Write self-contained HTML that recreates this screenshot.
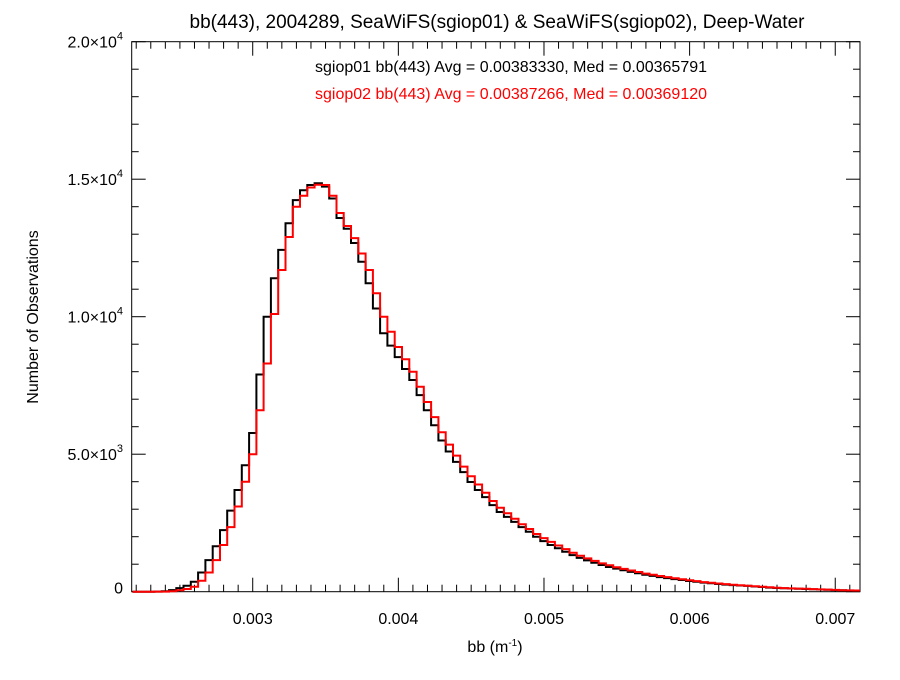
<!DOCTYPE html>
<html><head><meta charset="utf-8"><style>
body{margin:0;background:#fff}
svg text{font-family:"Liberation Sans",sans-serif}
</style></head><body>
<svg id="chart" width="900" height="675" xmlns="http://www.w3.org/2000/svg">
<rect width="900" height="675" fill="#fff"/>
<text x="497" y="28" font-size="19" text-anchor="middle">bb(443), 2004289, SeaWiFS(sgiop01) &amp; SeaWiFS(sgiop02), Deep-Water</text>
<text x="511" y="72" font-size="16" text-anchor="middle">sgiop01 bb(443) Avg = 0.00383330, Med = 0.00365791</text>
<text x="511" y="99" font-size="16" text-anchor="middle" fill="#f00">sgiop02 bb(443) Avg = 0.00387266, Med = 0.00369120</text>
<text transform="translate(38,317) rotate(-90)" font-size="16" text-anchor="middle">Number of Observations</text>
<text x="495" y="652" font-size="16" text-anchor="middle">bb (m<tspan font-size="10" dy="-6">-1</tspan><tspan dy="6">)</tspan></text>
<g id="axes"></g>
<g id="series"></g>
</svg>
<script>
const binStart=0.0022;
const binW=0.00005;
const sgiop01=[0,0,0,5,20,60,130,220,360,700,1150,1650,2240,2950,3700,4600,5770,7900,10000,11400,12430,13400,14240,14600,14790,14850,14730,14300,13590,13200,12680,12000,11220,10300,9400,8950,8530,8100,7700,7150,6600,6050,5500,5100,4720,4350,3990,3700,3440,3150,2900,2720,2540,2350,2180,2000,1840,1700,1580,1450,1330,1230,1140,1050,970,900,840,780,720,670,620,575,530,495,460,425,390,360,330,305,280,260,240,225,210,190,170,150,135,125,115,108,100,90,80,70,60,52,45,40];
const sgiop02=[0,0,0,2,5,20,50,100,180,400,700,1150,1700,2350,3100,4000,5000,6600,8300,10100,11700,12900,14000,14400,14700,14800,14790,14400,13770,13300,12860,12300,11700,10850,10000,9450,8900,8450,8000,7450,6900,6350,5800,5350,4950,4550,4200,3900,3600,3300,3050,2850,2650,2450,2280,2100,1950,1810,1680,1550,1420,1310,1210,1120,1030,960,890,830,770,715,660,615,570,530,490,455,420,385,350,325,300,278,255,238,220,200,180,162,145,132,120,112,105,95,85,75,65,56,48,42];
const xTicks=[0.003,0.004,0.005,0.006,0.007];
const xTickLabels=["0.003","0.004","0.005","0.006","0.007"];
const yTicks=[0,5000,10000,15000,20000];
const yTickMant=["0","5.0","1.0","1.5","2.0"];
const yTickExp=["","3","4","4","4"];

const L=131.7,R=860,T=41.7,B=591.7;
const xMin=0.002169,xMax=0.00717;
const X=v=>L+(v-xMin)/(xMax-xMin)*(R-L);
const Y=v=>B-v/20000*(B-T);
const NS="http://www.w3.org/2000/svg";
const axes=document.getElementById('axes');
function mk(tag,attrs,parent){const e=document.createElementNS(NS,tag);for(const k in attrs)e.setAttribute(k,attrs[k]);parent.appendChild(e);return e;}
const frame=mk('rect',{x:L,y:T,width:R-L,height:B-T,fill:'none',stroke:'#000','stroke-width':1},axes);


for(let i=22;i<=71;i++){const v=i/10000;const x=X(v);if(x<L||x>R)continue;const major=i%10===0;const len=major?14:7;
 const t1=mk('line',{x1:x,x2:x,y1:B,y2:B-len,stroke:'#000'},axes);
 
 
 const t2=mk('line',{x1:x,x2:x,y1:T,y2:T+len,stroke:'#000'},axes);
 
 }
xTicks.forEach((v,i)=>{const t=mk('text',{x:X(v),y:624,'font-size':16,'text-anchor':'middle'},axes);t.textContent=xTickLabels[i];
 
 });
for(let v=0;v<=20000;v+=1000){const y=Y(v);const major=v%5000===0;const len=major?14:7;
 const t1=mk('line',{x1:L,x2:L+len,y1:y,y2:y,stroke:'#000'},axes);
 
 
 const t2=mk('line',{x1:R,x2:R-len,y1:y,y2:y,stroke:'#000'},axes);
 
 }
yTicks.forEach((v,i)=>{const t=mk('text',{x:123,y:Y(v)+(yTickExp[i]?6:2),'font-size':16,'text-anchor':'end'},axes);
 
 
 if(yTickExp[i]){t.textContent=yTickMant[i]+"\u00d710";const s=mk('tspan',{'font-size':11,dy:-8},t);s.textContent=yTickExp[i];}
 else t.textContent=yTickMant[i];});
const series=document.getElementById('series');
function step(vals,color,name){let d='';vals.forEach((v,i)=>{const c=binStart+i*binW;const x0=Math.max(L,X(c-binW/2)),x1=Math.min(R,X(c+binW/2));const y=Y(v);d+=(i===0?'M':'L')+x0.toFixed(1)+','+y.toFixed(1)+'L'+x1.toFixed(1)+','+y.toFixed(1);});
 const p=mk('path',{d:d,fill:'none',stroke:color,'stroke-width':2},series);
 
 }
step(sgiop01,'#000','sgiop01-histogram');
step(sgiop02,'#f00','sgiop02-histogram');
</script>
</body></html>
